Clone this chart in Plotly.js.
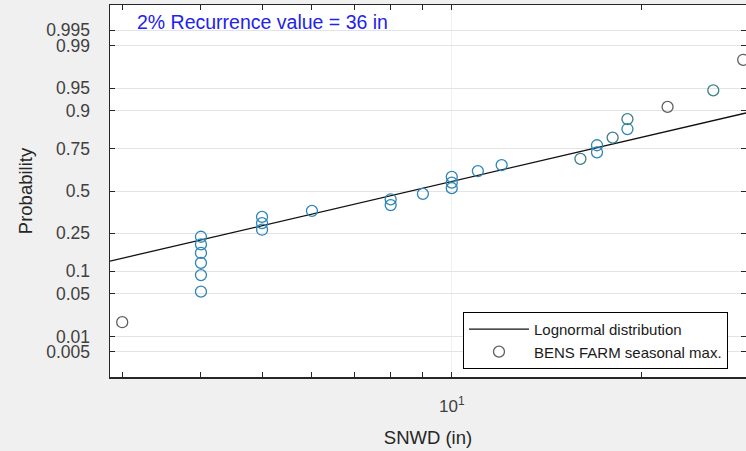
<!DOCTYPE html>
<html>
<head>
<meta charset="utf-8">
<script src="https://cdn.plot.ly/plotly-3.0.1.min.js"></script>
<style>
  html, body { margin: 0; padding: 0; background: #f0f0f0; }
  #chart { width: 746px; height: 451px; }
</style>
</head>
<body>
<div id="chart"></div>
<script>
// ---- data ----
const snwdInches = [3, 4, 4, 4, 4, 4, 4, 5, 5, 5, 6, 8, 8, 9, 10, 10, 10, 11, 12, 16, 17, 17, 18, 19, 19, 22, 26, 29];
const probability = [0.0179, 0.0536, 0.0893, 0.125, 0.1607, 0.1964, 0.2321, 0.2679, 0.3036, 0.3393,
                     0.375, 0.4107, 0.4464, 0.4821, 0.5179, 0.5536, 0.5893, 0.625, 0.6607, 0.6964,
                     0.7321, 0.7679, 0.8036, 0.8393, 0.875, 0.9107, 0.9464, 0.9821];
const fitLineX = [2.869, 29.3];
const fitLineProb = [0.131, 0.894];
const probTicks = [0.005, 0.01, 0.05, 0.1, 0.25, 0.5, 0.75, 0.9, 0.95, 0.99, 0.995];
const probTickLabels = ['0.005', '0.01', '0.05', '0.1', '0.25', '0.5', '0.75', '0.9', '0.95', '0.99', '0.995'];
const xMajorTicks = [10];
const xMajorLabels = ['10<sup>1</sup>'];
const xMinorTicks = [3, 4, 5, 6, 7, 8, 9, 20];
const recurrenceText = '2% Recurrence value = 36 in';
const lineName = 'Lognormal distribution';
const pointsName = 'BENS FARM seasonal max.';

// inverse standard normal CDF (Acklam) used as the probability-axis transform
function norminv(p) {
  const a = [-3.969683028665376e+01, 2.209460984245205e+02, -2.759285104469687e+02, 1.383577518672690e+02, -3.066479806614716e+01, 2.506628277459239e+00];
  const b = [-5.447609879822406e+01, 1.615858368580409e+02, -1.556989798598866e+02, 6.680131188771972e+01, -1.328068155288572e+01];
  const c = [-7.784894002430293e-03, -3.223964580411365e-01, -2.400758277161838e+00, -2.549732539343734e+00, 4.374664141464968e+00, 2.938163982698783e+00];
  const d = [7.784695709041462e-03, 3.224671290700398e-01, 2.445134137142996e+00, 3.754408661907416e+00];
  const pl = 0.02425, ph = 1 - pl;
  let q, r;
  if (p < pl) {
    q = Math.sqrt(-2 * Math.log(p));
    return (((((c[0]*q+c[1])*q+c[2])*q+c[3])*q+c[4])*q+c[5]) / ((((d[0]*q+d[1])*q+d[2])*q+d[3])*q+1);
  } else if (p <= ph) {
    q = p - 0.5; r = q * q;
    return (((((a[0]*r+a[1])*r+a[2])*r+a[3])*r+a[4])*r+a[5])*q / (((((b[0]*r+b[1])*r+b[2])*r+b[3])*r+b[4])*r+1);
  } else {
    q = Math.sqrt(-2 * Math.log(1 - p));
    return -(((((c[0]*q+c[1])*q+c[2])*q+c[3])*q+c[4])*q+c[5]) / ((((d[0]*q+d[1])*q+d[2])*q+d[3])*q+1);
  }
}

const BLUE = '#2e86b5', TEAL = '#3d7f8a', GRAY = '#5c6060';
const pointColors = [GRAY, BLUE, BLUE, BLUE, BLUE, BLUE, BLUE, BLUE, BLUE, BLUE,
                     BLUE, BLUE, BLUE, BLUE, BLUE, BLUE, BLUE, BLUE, BLUE, TEAL,
                     BLUE, BLUE, TEAL, BLUE, TEAL, GRAY, TEAL, GRAY];

const FONT = 'Liberation Sans, Arial, sans-serif';

const traces = [
  {
    type: 'scatter', mode: 'lines', name: lineName,
    x: fitLineX, y: fitLineProb.map(norminv),
    line: { color: '#111111', width: 1.3 },
    hoverinfo: 'skip'
  },
  {
    type: 'scatter', mode: 'markers', name: pointsName,
    x: snwdInches, y: probability.map(norminv),
    marker: { symbol: 'circle-open', size: 11, color: pointColors, line: { width: 1.3 } }
  }
];

const layout = {
  width: 746, height: 451,
  margin: { l: 110, r: 0, t: 5, b: 74, pad: 0 },
  paper_bgcolor: '#f0f0f0',
  plot_bgcolor: '#ffffff',
  font: { family: FONT, color: '#404040' },
  showlegend: true,
  legend: {
    x: 0.555, y: 0.175, xanchor: 'left', yanchor: 'top',
    bgcolor: '#ffffff', bordercolor: '#000000', borderwidth: 1,
    font: { family: FONT, size: 15, color: '#1a1a1a' },
    itemwidth: 60, tracegroupgap: 0
  },
  xaxis: {
    type: 'log',
    range: [Math.log10(fitLineX[0]), Math.log10(fitLineX[1])],
    tickmode: 'array', tickvals: xMajorTicks, ticktext: xMajorLabels,
    ticks: 'inside', ticklen: 5, tickwidth: 1, tickcolor: '#262626',
    ticklabelstandoff: 13,
    tickfont: { size: 17, color: '#404040' },
    minor: { tickvals: xMinorTicks, ticks: 'inside', ticklen: 5, tickwidth: 1, tickcolor: '#262626', showgrid: false },
    showline: true, linecolor: '#262626', linewidth: 1.5, mirror: 'ticks',
    showgrid: true, gridcolor: '#f0f0f0', gridwidth: 1,
    zeroline: false,
    title: { text: 'SNWD (in)', font: { size: 18.5, color: '#262626' }, standoff: 16 },
    automargin: false
  },
  yaxis: {
    range: [-2.976, 2.976],
    tickmode: 'array', tickvals: probTicks.map(norminv), ticktext: probTickLabels,
    ticks: 'inside', ticklen: 5, tickwidth: 1, tickcolor: '#262626',
    ticklabelstandoff: 15,
    tickfont: { size: 17.5, color: '#404040' },
    showline: true, linecolor: '#262626', linewidth: 1.5, mirror: 'ticks',
    showgrid: true, gridcolor: '#e3e3e3', gridwidth: 1,
    zeroline: false,
    title: { text: 'Probability', font: { size: 18.5, color: '#262626' }, standoff: 8 },
    automargin: false
  },
  annotations: [{
    xref: 'paper', yref: 'paper', x: 0.039, y: 0.954, xanchor: 'left', yanchor: 'middle',
    text: recurrenceText, showarrow: false,
    font: { family: FONT, size: 19.5, color: '#2222ee' }
  }]
};

Plotly.newPlot('chart', traces, layout, { displayModeBar: false, staticPlot: true });
</script>
</body>
</html>
